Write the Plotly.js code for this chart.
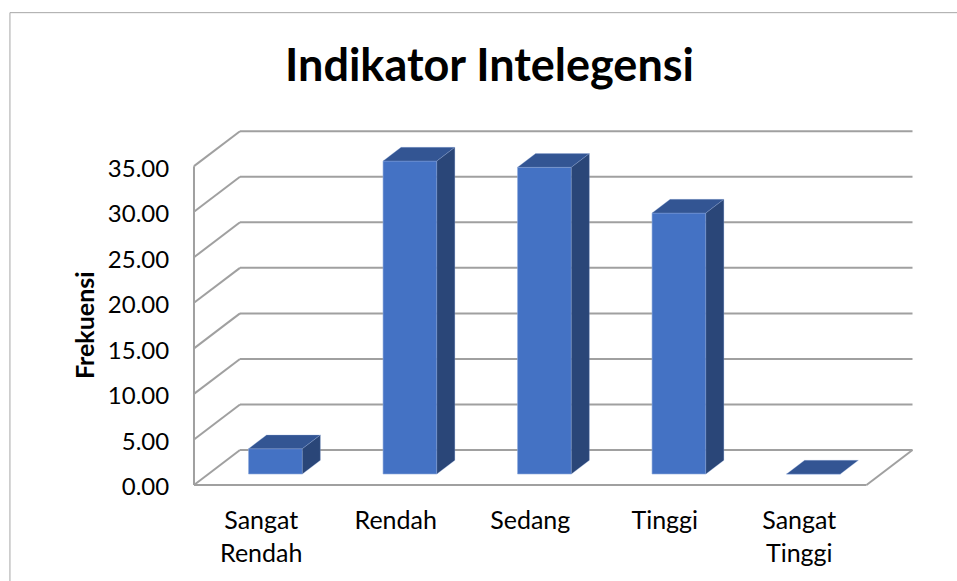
<!DOCTYPE html>
<html>
<head>
<meta charset="utf-8">
<script src="https://cdn.plot.ly/plotly-3.0.1.min.js"></script>
<style>html,body{margin:0;padding:0;background:#fff;overflow:hidden}</style>
</head>
<body>
<div id="chart" style="width:957px;height:581px"></div>
<script>
const categories = ["Sangat<br>Rendah", "Rendah", "Sedang", "Tinggi", "Sangat<br>Tinggi"];
const values = [2.78, 34.36, 33.67, 28.65, 0];
const yTicks = [0, 5, 10, 15, 20, 25, 30, 35];

// Fake-3D projection, in axis units
const wallDX = 0.342, wallDY = 3.84;      // depth of floor / back wall
const barInsetX = 0.1056, barInsetY = 1.207; // bar position on the floor
const barDX = 0.134, barDY = 1.5;         // depth of a bar
const barWidth = 0.4;
const xMin = -0.5, xMax = 4.5;

const colFront = "#4472C4", colTop = "#335593", colSide = "#2A4678", colEdge = "rgba(143,170,220,0.6)";
const gridColor = "#A0A0A0";

const shapes = [];
function seg(x0, y0, x1, y1) {
  shapes.push({type: "line", xref: "x", yref: "y", layer: "below", x0, y0, x1, y1,
    line: {color: gridColor, width: 2}});
}
yTicks.forEach(v => {
  seg(xMin, v, xMin + wallDX, v + wallDY);
  seg(xMin + wallDX, v + wallDY, xMax + wallDX, v + wallDY);
});
seg(xMin, 0, xMin, yTicks[yTicks.length - 1]);
seg(xMin, 0, xMax, 0);
seg(xMax, 0, xMax + wallDX, wallDY);
// outer chart frame
shapes.push({type: "rect", xref: "paper", yref: "paper", layer: "below",
  x0: -0.248, x1: 1.1, y0: -0.3, y1: 1.3195,
  line: {color: "#A6A6A6", width: 1}, fillcolor: "rgba(0,0,0,0)"});

const traces = [];
traces.push({
  type: "bar",
  x: values.map((_, i) => i + barInsetX),
  y: values,
  base: values.map(() => barInsetY),
  width: barWidth,
  marker: {color: colFront, line: {color: colEdge, width: 1}},
  hoverinfo: "skip",
  showlegend: false
});
values.forEach((v, i) => {
  const l = i + barInsetX - barWidth / 2, r = l + barWidth;
  const b = barInsetY, t = b + v;
  traces.push({
    type: "scatter", mode: "lines", fill: "toself", fillcolor: colTop,
    x: [l, r, r + barDX, l + barDX, l], y: [t, t, t + barDY, t + barDY, t],
    line: {color: colEdge, width: 0.5}, hoverinfo: "skip", showlegend: false
  });
  if (v > 0) traces.push({
    type: "scatter", mode: "lines", fill: "toself", fillcolor: colSide,
    x: [r, r + barDX, r + barDX, r, r], y: [b, b + barDY, t + barDY, t, b],
    line: {color: colEdge, width: 0.5}, hoverinfo: "skip", showlegend: false
  });
});

const fontFamily = "Lato, 'Open Sans', sans-serif";
const layout = {
  width: 957, height: 581,
  paper_bgcolor: "#fff", plot_bgcolor: "rgba(0,0,0,0)",
  margin: {l: 190, r: 41, t: 128, b: 92, pad: 0},
  showlegend: false,
  title: {
    text: "<b>Indikator Intelegensi</b>",
    font: {family: fontFamily, size: 45, color: "#000"},
    x: 0.5115, xanchor: "center", y: 0.887, yanchor: "middle"
  },
  xaxis: {
    range: [-0.5297, 4.868], type: "linear",
    tickvals: categories.map((_, i) => i), ticktext: categories,
    showgrid: false, zeroline: false, showline: false,
    ticks: "outside", ticklen: 9, tickcolor: "rgba(0,0,0,0)",
    tickfont: {family: fontFamily, size: 25, color: "#000"}, fixedrange: true
  },
  yaxis: {
    range: [-0.439, 39.19],
    tickvals: yTicks, tickformat: ".2f",
    showgrid: false, zeroline: false, showline: false,
    ticks: "outside", ticklen: 15, tickcolor: "rgba(0,0,0,0)", ticklabelshift: 2,
    tickfont: {family: fontFamily, size: 24, color: "#000"}, fixedrange: true
  },
  shapes,
  annotations: [{
    text: "<b>Frekuensi</b>", textangle: -90, showarrow: false,
    xref: "paper", yref: "paper", x: -0.146, y: 0.454, xanchor: "center", yanchor: "middle",
    font: {family: fontFamily, size: 25, color: "#000"}
  }]
};
Plotly.newPlot("chart", traces, layout, {displayModeBar: false, staticPlot: true});
</script>
</body>
</html>
